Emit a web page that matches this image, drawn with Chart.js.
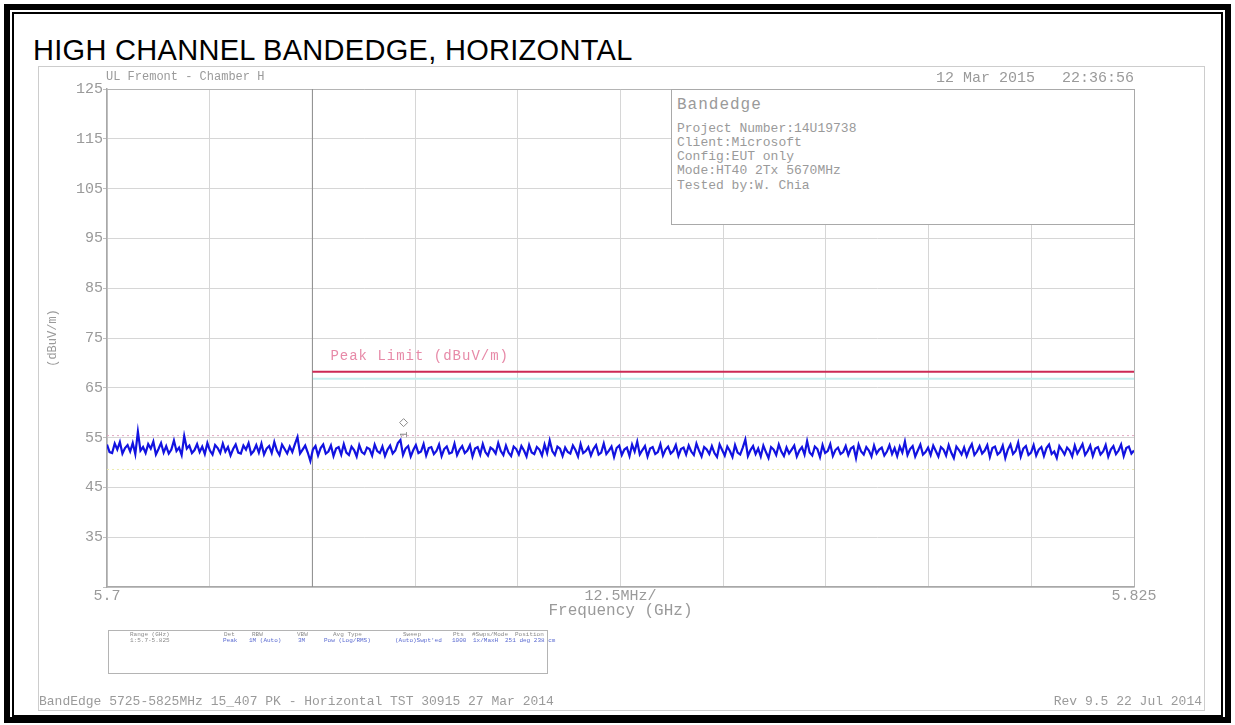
<!DOCTYPE html>
<html><head><meta charset="utf-8">
<script src="https://cdn.jsdelivr.net/npm/chart.js@4.4.1/dist/chart.umd.min.js"></script>
<style>
html,body{margin:0;padding:0;background:#fff}
body{width:1235px;height:725px;position:relative;overflow:hidden}
.box{position:absolute;box-sizing:border-box}
.sa{position:absolute;font-family:"Liberation Mono","DejaVu Sans Mono",monospace;color:#9a9a9a;white-space:pre;line-height:1}
.tb{position:absolute;font-family:"Liberation Mono","DejaVu Sans Mono",monospace;font-size:6px;line-height:1;white-space:pre;color:#8a8a8a}
.tb.v{color:#5a6ad0}
</style></head><body>
<div class="box" style="left:4px;top:4px;width:1227px;height:719px;border:6px solid #000"></div>
<div class="box" style="left:12px;top:12px;width:1211px;height:705px;border:2px solid #000"></div>
<div class="box" style="left:38px;top:66px;width:1167px;height:645px;border:1px solid #cdcdcd"></div>
<div style="position:absolute;left:33px;top:36px;font:29px 'Liberation Sans',Arial,sans-serif;letter-spacing:0.3px;line-height:29px;color:#000;white-space:nowrap">HIGH CHANNEL BANDEDGE, HORIZONTAL</div>
<canvas id="c" width="1235" height="725" style="position:absolute;left:0;top:0"></canvas>

<div class="sa" style="left:106px;top:71px;font-size:12px">UL Fremont - Chamber H</div>
<div class="sa" style="right:101px;top:71px;font-size:15px">12 Mar 2015   22:36:56</div>

<div class="box" style="left:671px;top:89px;width:464px;height:136px;border:1px solid #a9a9a9;background:#fff"></div>
<div class="sa" style="left:677px;top:97px;font-size:16px;letter-spacing:1px">Bandedge</div>
<div class="sa" style="left:677px;top:122px;font-size:13px">Project Number:14U19738</div>
<div class="sa" style="left:677px;top:136px;font-size:13px">Client:Microsoft</div>
<div class="sa" style="left:677px;top:150px;font-size:13px">Config:EUT only</div>
<div class="sa" style="left:677px;top:164px;font-size:13px">Mode:HT40 2Tx 5670MHz</div>
<div class="sa" style="left:677px;top:179px;font-size:13px">Tested by:W. Chia</div>

<div class="box" style="left:108px;top:630px;width:440px;height:44px;border:1px solid #b4b4b4"></div>
<div class="tb" style="left:130px;top:632px">Range (GHz)</div>
<div class="tb" style="left:130px;top:638px">1:5.7-5.825</div>
<div class="tb" style="left:224px;top:632px">Det</div>
<div class="tb v" style="left:223px;top:638px">Peak</div>
<div class="tb" style="left:252px;top:632px">RBW</div>
<div class="tb v" style="left:249px;top:638px">1M (Auto)</div>
<div class="tb" style="left:297px;top:632px">VBW</div>
<div class="tb v" style="left:298px;top:638px">3M</div>
<div class="tb" style="left:333px;top:632px">Avg Type</div>
<div class="tb v" style="left:324px;top:638px">Pow (Log/RMS)</div>
<div class="tb" style="left:403px;top:632px">Sweep</div>
<div class="tb v" style="left:395px;top:638px">(Auto)Swpt'ed</div>
<div class="tb" style="left:453px;top:632px">Pts</div>
<div class="tb v" style="left:452px;top:638px">1000</div>
<div class="tb" style="left:472px;top:632px">#Swps/Mode</div>
<div class="tb v" style="left:473px;top:638px">1x/MaxH</div>
<div class="tb" style="left:515px;top:632px">Position</div>
<div class="tb v" style="left:505px;top:638px">251 deg 238 cm</div>

<div class="sa" style="left:39px;top:695px;font-size:13px">BandEdge 5725-5825MHz 15_407 PK - Horizontal TST 30915 27 Mar 2014</div>
<div class="sa" style="right:33px;top:695px;font-size:13px">Rev 9.5 22 Jul 2014</div>

<script>
// Sweep settings and axis ticks
const freqStartGHz = 5.7;
const freqStopGHz = 5.825;
const xTickValues = [5.7, 5.7125, 5.725, 5.7375, 5.75, 5.7625, 5.775, 5.7875, 5.8, 5.8125, 5.825];
const xTickLabels = ['5.7', '', '', '', '', '12.5MHz/', '', '', '', '', '5.825'];
const yTickValues = [25, 35, 45, 55, 65, 75, 85, 95, 105, 115, 125];
const yTickLabels = ['', '35', '45', '55', '65', '75', '85', '95', '105', '115', '125'];

// Peak trace, dBuV/m, evenly spaced over the sweep
const traceDbuv = [
  53.6,52.1,51.9,53.8,52.6,54.1,51.8,52.9,53.5,52.2,53.9,51.7,56.2,52.4,53.1,51.9,53.7,52.8,54.2,51.6,
  52.7,53.9,52.0,53.3,51.8,52.6,54.4,52.3,53.0,51.5,55.3,52.8,53.4,51.9,52.5,53.7,52.1,53.2,51.7,53.9,
  52.4,51.6,53.5,52.9,51.9,53.8,52.2,53.1,51.4,52.7,53.6,52.0,51.8,53.4,52.6,53.9,51.7,52.3,53.5,52.0,
  53.8,51.6,52.8,53.3,51.9,54.1,52.4,51.5,53.6,52.7,51.8,53.2,52.1,53.7,55.1,51.8,52.6,53.4,52.0,50.3,
  52.6,53.3,51.4,52.9,53.6,51.8,52.2,53.4,51.3,52.8,53.1,51.6,53.7,52.0,51.5,53.2,52.5,51.2,53.5,52.1,
  51.7,53.0,52.7,51.4,53.6,52.3,51.9,53.2,51.3,52.6,53.4,51.8,52.4,53.9,54.5,51.5,52.8,53.3,51.2,52.5,
  53.5,51.9,52.2,53.7,51.4,52.9,53.1,51.7,52.3,53.6,51.3,52.7,53.2,51.8,52.0,53.8,51.5,52.6,53.3,51.9,
  52.4,53.5,51.2,52.8,53.1,51.6,53.7,52.1,51.4,53.0,52.6,51.8,53.9,52.3,51.5,53.4,52.0,51.3,53.2,52.7,
  51.6,53.3,52.4,51.2,53.5,52.0,51.7,53.1,52.6,51.4,53.6,51.9,54.4,52.3,51.5,53.2,52.8,51.3,53.0,52.1,
  51.8,53.4,52.5,51.2,53.7,51.9,52.3,53.1,51.4,52.7,53.5,51.6,52.0,53.8,51.7,52.4,53.2,51.1,52.9,53.4,
  51.5,52.6,53.0,51.3,53.6,52.2,54.2,51.6,52.5,53.3,51.2,52.8,53.1,51.7,52.1,53.7,51.4,52.6,53.2,51.8,
  52.3,53.5,51.3,52.7,53.0,51.6,53.4,52.2,51.5,53.8,52.4,51.2,53.1,52.6,51.7,53.3,51.9,51.1,53.6,52.5,
  51.4,53.2,52.3,51.1,53.5,52.0,51.6,53.0,54.6,51.3,52.5,53.3,51.7,52.8,51.2,53.4,52.1,50.9,53.1,52.6,
  51.5,53.6,52.2,51.3,53.0,51.8,52.6,53.4,51.2,52.4,53.1,51.6,54.3,52.0,51.4,53.2,52.7,51.1,53.5,51.9,
  52.3,53.7,51.3,52.5,53.0,51.7,52.1,53.3,51.5,52.8,53.2,50.9,53.6,52.2,51.6,53.1,52.4,51.2,53.4,51.8,
  52.6,53.0,51.4,52.2,53.5,51.7,52.9,51.3,53.2,52.0,54.2,51.5,52.7,53.3,51.2,52.4,53.6,51.6,52.1,53.0,
  51.5,53.4,52.3,51.2,53.1,52.6,51.4,53.5,52.0,50.9,53.2,52.5,51.6,53.0,51.3,52.7,53.7,51.5,52.2,53.3,
  51.8,52.4,53.5,51.1,52.9,53.2,51.6,52.1,53.4,50.9,52.6,53.6,51.7,52.3,54.0,51.2,52.8,53.3,51.5,52.0,
  53.5,51.4,52.6,53.1,51.3,52.9,53.6,51.7,52.2,50.9,53.3,52.5,51.6,53.0,52.4,51.2,53.4,51.8,52.7,53.7,
  51.5,52.3,53.4,51.3,52.8,53.1,51.6,52.2,53.5,51.2,52.6,53.3,51.7,52.4,53.6,51.3,52.9,53.2,51.8,52.4
];

// Limit and display lines
const limitFreq = [5.725, 5.825];
const limitDbuv = [68.2, 68.2];
const limitLabel = 'Peak Limit (dBuV/m)';
const offsetLineDbuv = [66.8, 66.8];
const displayLineFreq = [5.7, 5.825];
const displayLineDbuv = [55.4, 55.4];
const lowLineDbuv = [48.6, 48.6];
const bandEdgeFreq = [5.725, 5.725];
const bandEdgeDbuv = [25, 125];
const markerFreq = [5.7361];
const markerDbuv = [55.6];

const step = (freqStopGHz - freqStartGHz) / (traceDbuv.length - 1);
const tracePoints = traceDbuv.map((v, i) => ({ x: freqStartGHz + i * step, y: v }));
const pair = (xs, ys) => xs.map((x, i) => ({ x, y: ys[i] }));

const monoFont = '"Liberation Mono", "DejaVu Sans Mono", monospace';

const overlayPlugin = {
  id: 'overlayText',
  afterDatasetsDraw(chart) {
    const { ctx, scales: { x, y } } = chart;
    ctx.save();
    // limit line caption
    ctx.font = '14px ' + monoFont;
    ctx.letterSpacing = '1px';
    ctx.fillStyle = '#e78aa8';
    ctx.textBaseline = 'middle';
    ctx.fillText(limitLabel, x.getPixelForValue(limitFreq[0]) + 18, y.getPixelForValue(limitDbuv[0]) - 16);
    // marker 1
    const mx = x.getPixelForValue(markerFreq[0]);
    const my = y.getPixelForValue(markerDbuv[0]);
    ctx.letterSpacing = '0px';
    ctx.strokeStyle = '#8a8a8a';
    ctx.lineWidth = 1;
    ctx.beginPath();
    ctx.moveTo(mx, my - 16); ctx.lineTo(mx + 4, my - 12); ctx.lineTo(mx, my - 8); ctx.lineTo(mx - 4, my - 12); ctx.closePath();
    ctx.stroke();
    ctx.translate(mx, my);
    ctx.rotate(-Math.PI / 2);
    ctx.font = '11px ' + monoFont;
    ctx.fillStyle = '#8a8a8a';
    ctx.textAlign = 'center';
    ctx.fillText('1', 0, 0);
    ctx.restore();
  }
};

new Chart(document.getElementById('c'), {
  type: 'line',
  data: {
    datasets: [
      { data: tracePoints, borderColor: '#1212e0', borderWidth: 2.2, pointRadius: 0, tension: 0, order: 0 },
      { data: pair(limitFreq, limitDbuv), borderColor: '#cc2a55', borderWidth: 2, pointRadius: 0, order: 1 },
      { data: pair(bandEdgeFreq, bandEdgeDbuv), borderColor: '#8c8c8c', borderWidth: 1, pointRadius: 0, order: 2 },
      { data: pair(limitFreq, offsetLineDbuv), borderColor: '#c4eeee', borderWidth: 2, pointRadius: 0, order: 3 },
      { data: pair(displayLineFreq, displayLineDbuv), borderColor: '#e2a8c2', borderWidth: 1, borderDash: [2, 3], pointRadius: 0, order: 4 },
      { data: pair(displayLineFreq, lowLineDbuv), borderColor: '#ececb0', borderWidth: 1, borderDash: [2, 3], pointRadius: 0, order: 5 }
    ]
  },
  options: {
    responsive: false,
    animation: false,
    devicePixelRatio: 1,
    layout: { padding: { left: 0, top: 89, right: 101, bottom: 93 } },
    plugins: { legend: { display: false }, tooltip: { enabled: false } },
    scales: {
      x: {
        type: 'linear',
        min: freqStartGHz,
        max: freqStopGHz,
        afterBuildTicks: s => { s.ticks = xTickValues.map(v => ({ value: v })); },
        afterFit: s => { s.height = 45; },
        ticks: {
          autoSkip: false, maxRotation: 0, padding: 0,
          color: '#9a9a9a', font: { family: monoFont, size: 15 },
          callback: (v, i) => xTickLabels[i]
        },
        grid: {
          drawTicks: false,
          color: c => (c.tick && c.tick.value === freqStopGHz) ? '#b4b4b4' : '#d6d6d6'
        },
        border: { color: '#a8a8a8', width: 1.5 },
        title: {
          display: true, text: 'Frequency (GHz)', color: '#9a9a9a',
          font: { family: monoFont, size: 16 }, padding: { top: 0, bottom: 12 }
        }
      },
      y: {
        min: 25,
        max: 125,
        afterBuildTicks: s => { s.ticks = yTickValues.map(v => ({ value: v })); },
        afterFit: s => { s.width = 107; },
        ticks: {
          padding: 0, color: '#9a9a9a', font: { family: monoFont, size: 15 },
          callback: (v, i) => yTickLabels[i]
        },
        grid: {
          tickLength: 4,
          tickColor: '#c0c0c0',
          color: c => (c.tick && c.tick.value === 125) ? '#b4b4b4' : '#d6d6d6'
        },
        border: { color: '#a8a8a8', width: 1.5 },
        title: {
          display: true, text: '(dBuV/m)', color: '#9a9a9a',
          font: { family: monoFont, size: 12 }, padding: { top: 46, bottom: 0 }
        }
      }
    }
  },
  plugins: [overlayPlugin]
});
</script>
</body></html>
